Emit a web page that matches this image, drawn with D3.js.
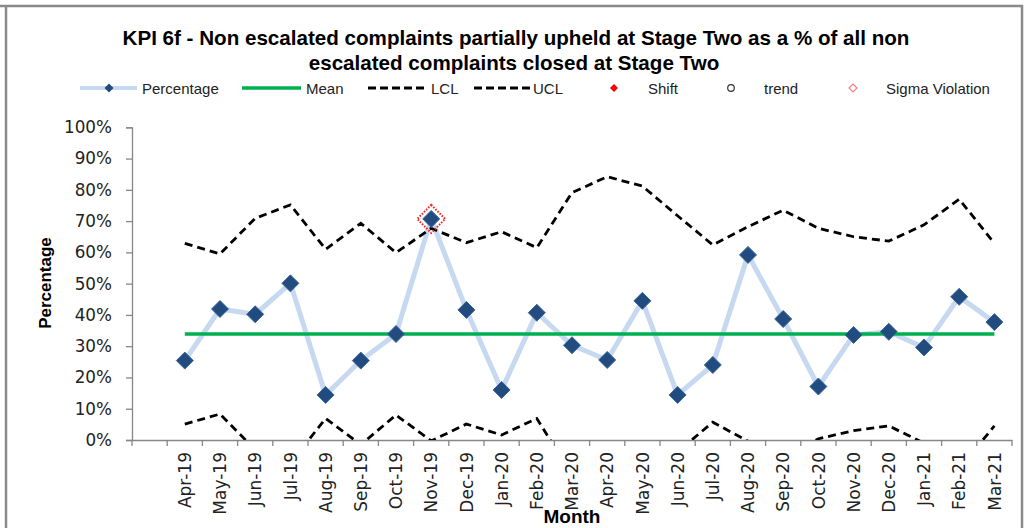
<!DOCTYPE html>
<html>
<head>
<meta charset="utf-8">
<script src="https://cdn.jsdelivr.net/npm/d3@7"></script>
<style>
  body { margin: 0; background: #fff; }
  svg { display: block; }
</style>
</head>
<body>
<script>
const months = ['Apr-19', 'May-19', 'Jun-19', 'Jul-19', 'Aug-19', 'Sep-19', 'Oct-19', 'Nov-19',
                'Dec-19', 'Jan-20', 'Feb-20', 'Mar-20', 'Apr-20', 'May-20', 'Jun-20', 'Jul-20',
                'Aug-20', 'Sep-20', 'Oct-20', 'Nov-20', 'Dec-20', 'Jan-21', 'Feb-21', 'Mar-21'];
const percentage = [25.4, 41.9, 40.2, 50.1, 14.4, 25.4, 33.9, 70.7, 41.6, 16.0, 40.7, 30.3,
                    25.6, 44.5, 14.4, 24.0, 59.2, 38.7, 17.1, 33.6, 34.6, 29.6, 45.8, 37.7];
const meanValue = 33.9;
const ucl = [62.9, 59.5, 70.9, 75.2, 61.0, 69.3, 59.9, 67.7, 63.1, 66.6, 61.5, 79.1,
             84.2, 81.2, 71.7, 62.4, 68.2, 73.5, 67.7, 65.0, 63.6, 68.8, 77.0, 62.9];
const lcl = [5.1, 8.3, -3.1, -7.4, 6.9, -1.5, 8.0, -0.3, 5.1, 1.6, 6.9, -11.3,
             -16.4, -13.4, -3.8, 5.7, -0.4, -5.7, 0.4, 3.0, 4.5, -1.0, -9.2, 4.5];
const sigmaViolation = ['Nov-19'];
const yTicks = [0, 10, 20, 30, 40, 50, 60, 70, 80, 90, 100];
const legendNames = ['Percentage', 'Mean', 'LCL', 'UCL', 'Shift', 'trend', 'Sigma Violation'];

const width = 1027;
const height = 528;
const plotLeft = 132, plotRight = 1012, plotTop = 127.3, plotBottom = 440;

const svg = d3.select('body')
              .append('svg')
              .attr('width', width)
              .attr('height', height);

// frame
svg.append('path')
   .attr('d', `M0,6 H1022 V528 M6,6 V528`)
   .attr('fill', 'none')
   .attr('stroke', '#8a8a8a')
   .attr('stroke-width', 2.5);

// title
const title = svg.append('text')
   .attr('text-anchor', 'middle')
   .attr('font-family', 'Liberation Sans, Arial, sans-serif')
   .attr('font-weight', 'bold')
   .attr('font-size', 20.6)
   .attr('fill', '#000');
title.append('tspan').attr('x', 516).attr('y', 45)
     .text('KPI 6f - Non escalated complaints partially upheld at Stage Two as a % of all non');
title.append('tspan').attr('x', 514).attr('y', 70)
     .text('escalated complaints closed at Stage Two');

// scales
const xScale = d3.scaleBand()
                 .domain([' ', ...months])
                 .range([plotLeft, plotRight]);
const cx = (m) => xScale(m) + xScale.bandwidth() / 2;
const yScale = d3.scaleLinear()
                 .domain([0, 100])
                 .range([plotBottom, plotTop]);

// y axis
const yAxis = d3.axisLeft(yScale)
                .tickValues(yTicks)
                .tickFormat(d => d + '%')
                .tickSize(6)
                .tickPadding(14);
const gy = svg.append('g')
   .attr('transform', `translate(${plotLeft}, 0)`)
   .call(yAxis);
gy.select('.domain').attr('stroke', '#878787').attr('stroke-width', 1.3);
gy.selectAll('.tick line').attr('stroke', '#878787').attr('stroke-width', 1.3);
gy.selectAll('.tick text')
  .attr('font-family', 'DejaVu Sans, sans-serif')
  .attr('font-size', 16.8)
  .attr('fill', '#222');

// x axis
const xAxis = d3.axisBottom(xScale).tickSize(0).tickFormat('');
const gx = svg.append('g')
   .attr('transform', `translate(0, ${plotBottom})`)
   .call(xAxis);
gx.select('.domain').attr('stroke', '#878787').attr('stroke-width', 1.3);
gx.selectAll('.tick').remove();
const bounds = [...xScale.domain().map(d => xScale(d)), plotRight];
gx.selectAll('line.bound')
  .data(bounds)
  .enter()
  .append('line')
  .attr('class', 'bound')
  .attr('x1', d => d).attr('x2', d => d)
  .attr('y1', 0).attr('y2', 6)
  .attr('stroke', '#878787')
  .attr('stroke-width', 1.3);

svg.selectAll('text.xlab')
   .data(months)
   .enter()
   .append('text')
   .attr('class', 'xlab')
   .attr('transform', d => `translate(${cx(d)}, 452) rotate(-90)`)
   .attr('text-anchor', 'end')
   .attr('dy', '0.36em')
   .attr('font-family', 'DejaVu Sans, sans-serif')
   .attr('font-size', 17)
   .attr('fill', '#222')
   .text(d => d);

// axis titles
svg.append('text')
   .attr('transform', `translate(51, 283) rotate(-90)`)
   .attr('text-anchor', 'middle')
   .attr('font-family', 'Liberation Sans, Arial, sans-serif')
   .attr('font-weight', 'bold')
   .attr('font-size', 17)
   .text('Percentage');
svg.append('text')
   .attr('x', 572)
   .attr('y', 523)
   .attr('text-anchor', 'middle')
   .attr('font-family', 'Liberation Sans, Arial, sans-serif')
   .attr('font-weight', 'bold')
   .attr('font-size', 19)
   .text('Month');

// clip
svg.append('clipPath').attr('id', 'plot')
   .append('rect')
   .attr('x', plotLeft).attr('y', plotTop - 20)
   .attr('width', plotRight - plotLeft + 10).attr('height', plotBottom - plotTop + 20);

const plot = svg.append('g').attr('clip-path', 'url(#plot)');

const line = (vals) => d3.line()
    .x((d, i) => cx(months[i]))
    .y(d => yScale(d))(vals);

plot.append('path')
    .attr('d', line(percentage))
    .attr('fill', 'none')
    .attr('stroke', '#c6d9f1')
    .attr('stroke-width', 5)
    .attr('stroke-linejoin', 'round');

[lcl, ucl].forEach(vals => {
  plot.append('path')
      .attr('d', line(vals))
      .attr('fill', 'none')
      .attr('stroke', '#000')
      .attr('stroke-width', 2.8)
      .attr('stroke-dasharray', '8,5');
});

plot.append('path')
    .attr('d', line(months.map(() => meanValue)))
    .attr('fill', 'none')
    .attr('stroke', '#00b050')
    .attr('stroke-width', 3.5);

const diamond = (r) => `M0,${-r} L${r},0 L0,${r} L${-r},0 Z`;

svg.selectAll('path.point')
   .data(percentage)
   .enter()
   .append('path')
   .attr('class', 'point')
   .attr('d', diamond(8.5))
   .attr('transform', (d, i) => `translate(${cx(months[i])}, ${yScale(d)})`)
   .attr('fill', '#224b7f')
   .attr('stroke', '#3a6799')
   .attr('stroke-width', 1);

svg.selectAll('path.sigma')
   .data(sigmaViolation)
   .enter()
   .append('path')
   .attr('class', 'sigma')
   .attr('d', diamond(14))
   .attr('transform', d => `translate(${cx(d)}, ${yScale(percentage[months.indexOf(d)])})`)
   .attr('fill', 'none')
   .attr('stroke', '#ff1a1a')
   .attr('stroke-width', 2)
   .attr('stroke-dasharray', '1.5,1.5');

// legend
const legY = 88;
const legText = [142, 306, 431, 533, 648, 764, 886];
const lg = svg.append('g');
lg.selectAll('text')
  .data(legendNames)
  .enter()
  .append('text')
  .attr('x', (d, i) => legText[i])
  .attr('y', legY + 5.5)
  .attr('font-family', 'Liberation Sans, Arial, sans-serif')
  .attr('font-size', 15)
  .attr('fill', '#222')
  .text(d => d);

lg.append('line').attr('x1', 80).attr('x2', 137).attr('y1', legY).attr('y2', legY)
  .attr('stroke', '#c6d9f1').attr('stroke-width', 4);
lg.append('path').attr('d', diamond(4.5)).attr('transform', `translate(109, ${legY})`)
  .attr('fill', '#224b7f');
lg.append('line').attr('x1', 242).attr('x2', 301).attr('y1', legY).attr('y2', legY)
  .attr('stroke', '#00b050').attr('stroke-width', 3.5);
[[368, 428], [474, 530]].forEach(([a, b]) => {
  lg.append('line').attr('x1', a).attr('x2', b).attr('y1', legY).attr('y2', legY)
    .attr('stroke', '#000').attr('stroke-width', 2.8).attr('stroke-dasharray', '8,4');
});
lg.append('path').attr('d', diamond(4)).attr('transform', `translate(614, ${legY})`)
  .attr('fill', '#ff0000');
lg.append('circle').attr('cx', 731).attr('cy', legY).attr('r', 3.3)
  .attr('fill', 'none').attr('stroke', '#333').attr('stroke-width', 1.2);
lg.append('path').attr('d', diamond(4)).attr('transform', `translate(853, ${legY})`)
  .attr('fill', 'none').attr('stroke', '#f08080').attr('stroke-width', 1.2);
</script>
</body>
</html>
